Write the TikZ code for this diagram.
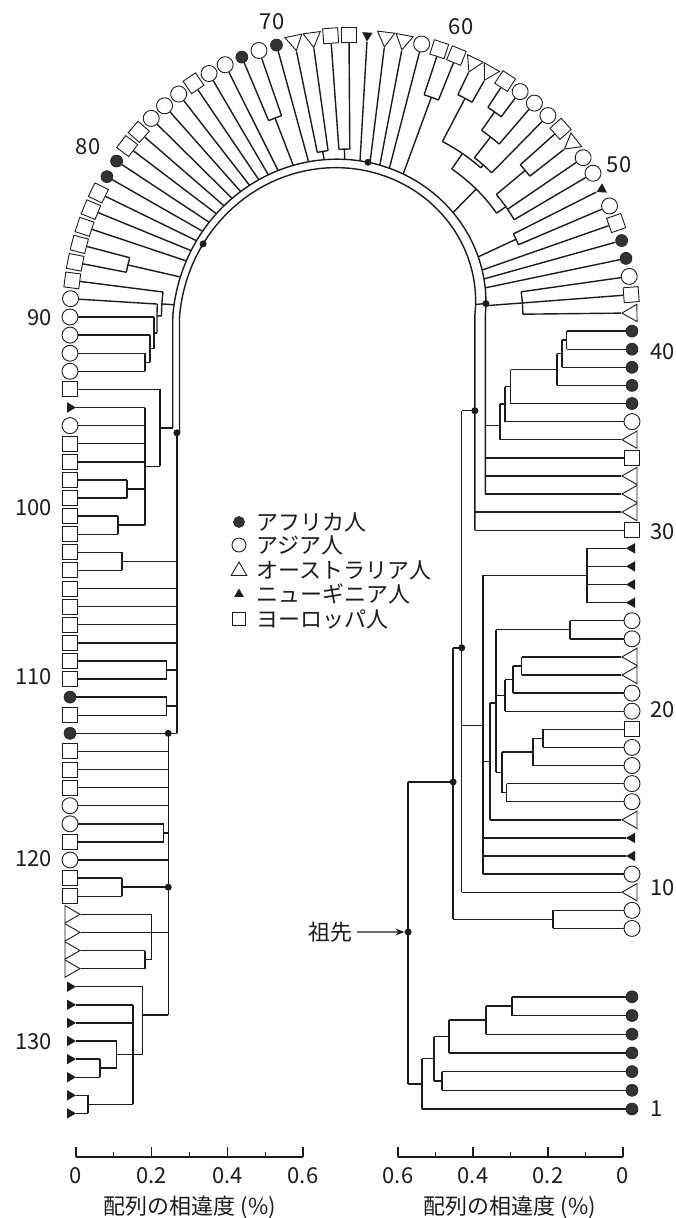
\documentclass[tikz,border=0pt]{standalone}
\usepackage{fontspec}
\setmainfont{Noto Sans CJK JP}
\usetikzlibrary{arrows.meta,shapes.geometric,calc}
\definecolor{inkDark}{HTML}{1C1C1C}
\definecolor{afrFill}{HTML}{333333}

\makeatletter
% leaf data: index, depth 0, node name L<i>
\newcommand\tipdata[1]{%
  \expandafter\xdef\csname hi@#1\endcsname{#1}%
  \expandafter\xdef\csname hr@#1\endcsname{0}%
  \expandafter\xdef\csname hl@#1\endcsname{0}%
  \expandafter\xdef\csname hn@#1\endcsname{L#1}%
}
% \clade{name}{index or empty}{depth right}{depth left}{children}
\newcommand\clade[5]{%
  \gdef\cmin{1000}\gdef\cmax{-1000}%
  \foreach \ch in {#5}{%
    \pgfmathsetmacro\cidx{\csname hi@\ch\endcsname}%
    \pgfmathsetmacro\tmp{min(\cmin,\cidx)}\xdef\cmin{\tmp}%
    \pgfmathsetmacro\tmp{max(\cmax,\cidx)}\xdef\cmax{\tmp}%
  }%
  \edef\nidx{#2}%
  \ifx\nidx\@empty\pgfmathsetmacro\nidx{(\cmin+\cmax)/2}\fi
  \pgfmathsetmacro\cmin{min(\cmin,\nidx)}%
  \pgfmathsetmacro\cmax{max(\cmax,\nidx)}%
  \expandafter\xdef\csname hi@#1\endcsname{\nidx}%
  \expandafter\xdef\csname hr@#1\endcsname{#3}%
  \expandafter\xdef\csname hl@#1\endcsname{#4}%
  \expandafter\xdef\csname hn@#1\endcsname{#1}%
  \pgfmathtruncatemacro\ns{max(2,(\cmax-\cmin)*3+2)}%
  \draw[branch] plot[variable=\vv, domain=\cmin:\cmax, samples=\ns]
    ({hx(\vv,dd(\vv,#3,#4))},{hy(\vv,dd(\vv,#3,#4))});
  \foreach \ch in {#5}{%
    \edef\cidx{\csname hi@\ch\endcsname}%
    \edef\cnm{\csname hn@\ch\endcsname}%
    \draw[branch] ({hx(\cidx,dd(\cidx,#3,#4))},{hy(\cidx,dd(\cidx,#3,#4))}) -- (\cnm);
  }%
  \coordinate (#1) at ({hx(\nidx,dd(\nidx,#3,#4))},{hy(\nidx,dd(\nidx,#3,#4))});
}
\makeatother

\begin{document}
\begin{tikzpicture}[
  x=1pt, y=1pt,
  declare function={
    hp(\a)=(\a<7.5)*(-793+(\a-1)*18.7)+and(\a>=7.5,\a<=42)*(3+(\a-42)*18.1)
           +and(\a>42,\a<=90)*(3+(\a-42)*18.35)+(\a>90)*(883.8+(\a-90)*18.1);
    hr(\b)=272-375*\b;
    hx(\a,\b)=(hp(\a)<=0)*(351+hr(\b))+(hp(\a)>=882.8)*(351-hr(\b))
             +and(hp(\a)>0,hp(\a)<882.8)*(351+hr(\b)*cos(hp(\a)*0.203899));
    hy(\a,\b)=(hp(\a)<=0)*(-316+hp(\a))+(hp(\a)>=882.8)*(566.8-hp(\a))
             +and(hp(\a)>0,hp(\a)<882.8)*(-316+hr(\b)*sin(hp(\a)*0.203899));
    hang(\a)=(hp(\a)>=882.8)*180+and(hp(\a)>0,hp(\a)<882.8)*(hp(\a)*0.203899);
    dd(\a,\b,\c)=\b+(\c-\b)*min(1,max(0,(\a-42)/48));
  },
  branch/.style={line width=1.4pt, draw=inkDark},
  afr/.style={circle, fill=afrFill, draw=inkDark, line width=0.6pt,
              minimum size=12pt, inner sep=0pt},
  asia/.style={circle, draw=inkDark, fill=white, line width=0.9pt,
               minimum size=16pt, inner sep=0pt},
  aus/.style={regular polygon, regular polygon sides=3, draw=inkDark, fill=white,
              line width=0.9pt, minimum size=20pt, inner sep=0pt},
  png/.style={regular polygon, regular polygon sides=3, fill=inkDark,
              minimum size=12pt, inner sep=0pt},
  eur/.style={rectangle, draw=inkDark, fill=white, line width=0.9pt,
              minimum size=15pt, inner sep=0pt},
  knot/.style={circle, fill=inkDark, minimum size=7pt, inner sep=0pt},
  num/.style={font=\fontsize{22}{26}\selectfont, text=inkDark, inner sep=0pt},
  lgd/.style={font=\fontsize{22}{26}\selectfont, text=inkDark, inner sep=0pt},
  axis/.style={line width=1.1pt, draw=inkDark},
]

\fill[white] (0,0) rectangle (676,-1218);
\useasboundingbox (0,0) rectangle (676,-1218);

% =============================== leaves ====================================
\foreach \i in {1,...,134}{\tipdata{\i}}
\foreach \i/\k in {1/afr,2/afr,3/afr,4/afr,5/afr,6/afr,7/afr,8/asia,9/asia,
  10/aus,11/asia,12/png,13/png,14/aus,15/asia,16/asia,17/asia,18/asia,19/eur,
  20/asia,21/asia,22/aus,23/aus,24/asia,25/asia,26/png,27/png,28/png,29/png,
  30/eur,31/aus,32/aus,33/aus,34/eur,35/aus,36/asia,37/afr,38/afr,39/afr,
  40/afr,41/afr,42/aus,43/eur,44/asia,45/afr,46/afr,47/eur,48/asia,49/png,
  50/asia,51/asia,52/aus,53/eur,54/asia,55/asia,56/asia,57/eur,58/aus,59/aus,
  60/eur,61/eur,62/asia,63/aus,64/aus,65/png,66/eur,67/eur,68/aus,69/aus,
  70/afr,71/asia,72/afr,73/asia,74/asia,75/eur,76/asia,77/asia,78/asia,79/eur,
  80/eur,81/afr,82/afr,83/eur,84/eur,85/eur,86/eur,87/eur,88/eur,89/asia,
  90/asia,91/asia,92/asia,93/asia,94/eur,95/png,96/asia,97/eur,98/eur,99/eur,
  100/eur,101/eur,102/eur,103/eur,104/eur,105/eur,106/eur,107/eur,108/eur,
  109/eur,110/eur,111/afr,112/eur,113/afr,114/eur,115/eur,116/eur,117/asia,
  118/asia,119/eur,120/asia,121/eur,122/eur,123/aus,124/aus,125/aus,126/aus,
  127/png,128/png,129/png,130/png,131/png,132/png,133/png,134/png}{
  \pgfmathsetmacro\la{hang(\i)+90}
  \node[\k, rotate=\la] (L\i) at ({hx(\i,-0.024)},{hy(\i,-0.024)}) {};
}

% =============================== clades ====================================
% African cluster 1-7
\clade{a6}{}{0.296}{0.296}{6,7}
\clade{a5}{}{0.365}{0.365}{5,a6}
\clade{a4}{}{0.464}{0.464}{4,a5}
\clade{a2}{}{0.483}{0.483}{2,3}
\clade{a3}{}{0.504}{0.504}{a2,a4}
\clade{aA}{}{0.536}{0.536}{1,a3}

% right column 8-29
\clade{n8}{}{0.187}{0.187}{8,9}
\clade{n26}{}{0.096}{0.096}{26,27,28,29}
\clade{g24}{}{0.141}{0.141}{24,25}
\clade{g22}{}{0.27}{0.27}{22,23}
\clade{g21}{}{0.293}{0.293}{21,g22}
\clade{g20}{}{0.315}{0.315}{20,g21}
\clade{g18}{}{0.213}{0.213}{18,19}
\clade{g17}{}{0.24}{0.24}{17,g18}
\clade{g15}{}{0.31}{0.31}{15,16}
\clade{g16}{}{0.323}{0.323}{g17,g15}
\clade{cG}{20.45}{0.339}{0.339}{g24,g20,g16}
\clade{cF}{}{0.355}{0.355}{cG,14}
\clade{cD}{19.2}{0.373}{0.373}{n26,cF,13,12,11}

% right column 35-44
\clade{h40}{}{0.15}{0.15}{40,41}
\clade{h39}{}{0.163}{0.163}{39,h40}
\clade{h38}{}{0.176}{0.176}{38,h39}
\clade{h37}{}{0.30}{0.30}{37,h38}
\clade{h36}{}{0.315}{0.315}{36,h37}
\clade{h35}{35.8}{0.328}{0.328}{35,h36}
\clade{h42}{}{0.267}{0.267}{42,43,44}

% the arch
\clade{c48}{}{0.24}{0.24}{48,49}
\clade{c52}{}{0.12}{0.12}{52,53}
\clade{c50}{}{0.22}{0.22}{50,51,c52}
\clade{c56}{}{0.06}{0.06}{56,57}
\clade{c55}{}{0.12}{0.12}{55,c56}
\clade{c54}{}{0.19}{0.19}{54,c55}
\clade{c58}{}{0.07}{0.07}{58,59}
\clade{c54b}{}{0.2}{0.2}{c54,c58}
\clade{c50b}{}{0.25}{0.25}{c50,c54b}
\clade{c60}{}{0.104}{0.104}{60,61}
\clade{c66}{}{0.28}{0.28}{66,67}
\clade{c68}{}{0.28}{0.28}{68,69}
\clade{c71}{}{0.16}{0.16}{71,72}
\clade{c86}{}{0.115}{0.115}{86,87}

% left column 88-102
\clade{q1}{}{0.176}{0.176}{92,93}
\clade{q2}{}{0.189}{0.189}{91,q1}
\clade{q3}{}{0.2}{0.2}{90,q2}
\clade{q4}{}{0.208}{0.208}{89,q3}
\clade{q5}{}{0.22}{0.22}{88,q4}
\clade{c99}{}{0.128}{0.128}{99,100}
\clade{c101}{}{0.104}{0.104}{101,102}
\clade{m95}{}{0.176}{0.176}{95,96,97,98,c99,c101}
\clade{m94}{}{0.216}{0.216}{94,m95}

\clade{cH}{43.25}{0.367}{0.25}{32,33,34,h35,h42,45,46,47,c48,c50b,c60,62,63,64,
  65,c66,c68,70,c71,73,74,75,76,77,78,79,80,81,82,83,84,85,c86,q5,m94}

% left column 103-134
\clade{c103}{}{0.115}{0.115}{103,104}
\clade{c109}{}{0.234}{0.234}{109,110}
\clade{c111}{}{0.234}{0.234}{111,112}
\clade{c118}{}{0.226}{0.226}{118,119}
\clade{c121}{}{0.115}{0.115}{121,122}
\clade{c125}{}{0.176}{0.176}{125,126}
\clade{cU}{124}{0.194}{0.194}{123,124,c125}
\clade{n131}{}{0.056}{0.056}{131,132}
\clade{n130}{}{0.1}{0.1}{130,n131}
\clade{n133}{}{0.024}{0.024}{133,134}
\clade{n128}{}{0.144}{0.144}{128,129,n130,n133}
\clade{nNG}{128.56}{0.17}{0.17}{127,n128}
\clade{cT2}{113}{0.238}{0.238}{113,114,115,116,117,c118,120,c121,cU,nNG}
\clade{cT1}{96.4}{0.261}{0.261}{c103,105,106,107,108,c109,c111,cT2}

% trunk
\clade{cE}{36.6}{0.395}{0.268}{30,31,cH,cT1}
\clade{cC}{23.5}{0.43}{0.43}{cE,cD,10}
\clade{cB}{16.09}{0.453}{0.453}{n8,cC}
\clade{root}{7.8}{0.573}{0.573}{aA,cB}

% =============================== dots ======================================
\foreach \k in {root,cB,cC,cE,cH,cT1,cT2}{\node[knot] (k\k) at (\k) {};}
\node[knot] (kTop)  at ({hx(64.2,dd(64.2,0.367,0.25))},{hy(64.2,dd(64.2,0.367,0.25))}) {};
\node[knot] (kArc)  at ({hx(83,dd(83,0.395,0.268))},{hy(83,dd(83,0.395,0.268))}) {};
\node[knot] (kLow)  at ({hx(121.5,0.238)},{hy(121.5,0.238)}) {};

% ancestor
\node[lgd] (anc) at (330,-932) {祖先};
\draw[branch, -{Stealth[length=9pt,width=7pt]}] ($(anc.east)+(5,0)$) -- (kroot.west);

% =============================== numbers ===================================
\foreach \n/\y in {1/-1109,10/-888,20/-710,30/-532,40/-352}
  \node[num, anchor=west] (r\n) at (650,\y) {\n};
\foreach \n/\y in {90/-318,100/-508,110/-677,120/-859,130/-1042}
  \node[num, anchor=east] (l\n) at (52,\y) {\n};
\node[num] (a50) at (619,-165) {50};
\node[num] (a60) at (461,-27) {60};
\node[num] (a70) at (272,-22) {70};
\node[num] (a80) at (88,-147) {80};

% =============================== legend ====================================
\node[afr, minimum size=11pt] (sA) at (239,-522) {};
\node[asia, minimum size=14pt] (sS) at (239,-545) {};
\node[aus, minimum size=18pt] (sU) at (239,-571) {};
\node[png, minimum size=11pt] (sN) at (239,-594) {};
\node[eur, minimum size=13pt] (sE) at (239,-619) {};
\node[lgd, anchor=west] (tA) at (256,-522) {アフリカ人};
\node[lgd, anchor=west] (tS) at (256,-545) {アジア人};
\node[lgd, anchor=west] (tU) at (256,-570) {オーストラリア人};
\node[lgd, anchor=west] (tN) at (256,-594) {ニューギニア人};
\node[lgd, anchor=west] (tE) at (256,-619) {ヨーロッパ人};

% =============================== scales ====================================
\coordinate (sl0) at (76,-1157);
\coordinate (sl6) at (303,-1157);
\coordinate (sr0) at (623,-1157);
\coordinate (sr6) at (398,-1157);
\draw[axis] (sl0) -- (sl6);
\draw[axis] (sr0) -- (sr6);
\foreach \t in {0,...,6}{
  \pgfmathsetmacro\tl{mod(\t,2)==0 ? 10 : 5}
  \draw[axis] ($(sl0)!\t/6!(sl6)$) -- ++(0,\tl);
  \draw[axis] ($(sr0)!\t/6!(sr6)$) -- ++(0,\tl);
}
\foreach \t/\s in {0/0,2/0.2,4/0.4,6/0.6}{
  \node[num] at ($(sl0)!\t/6!(sl6)+(0,-19)$) {\s};
  \node[num] at ($(sr0)!\t/6!(sr6)+(0,-19)$) {\s};
}
\node[lgd] (xl) at (190,-1207) {配列の相違度 (\%)};
\node[lgd] (xr) at (510,-1207) {配列の相違度 (\%)};

\end{tikzpicture}
\end{document}
